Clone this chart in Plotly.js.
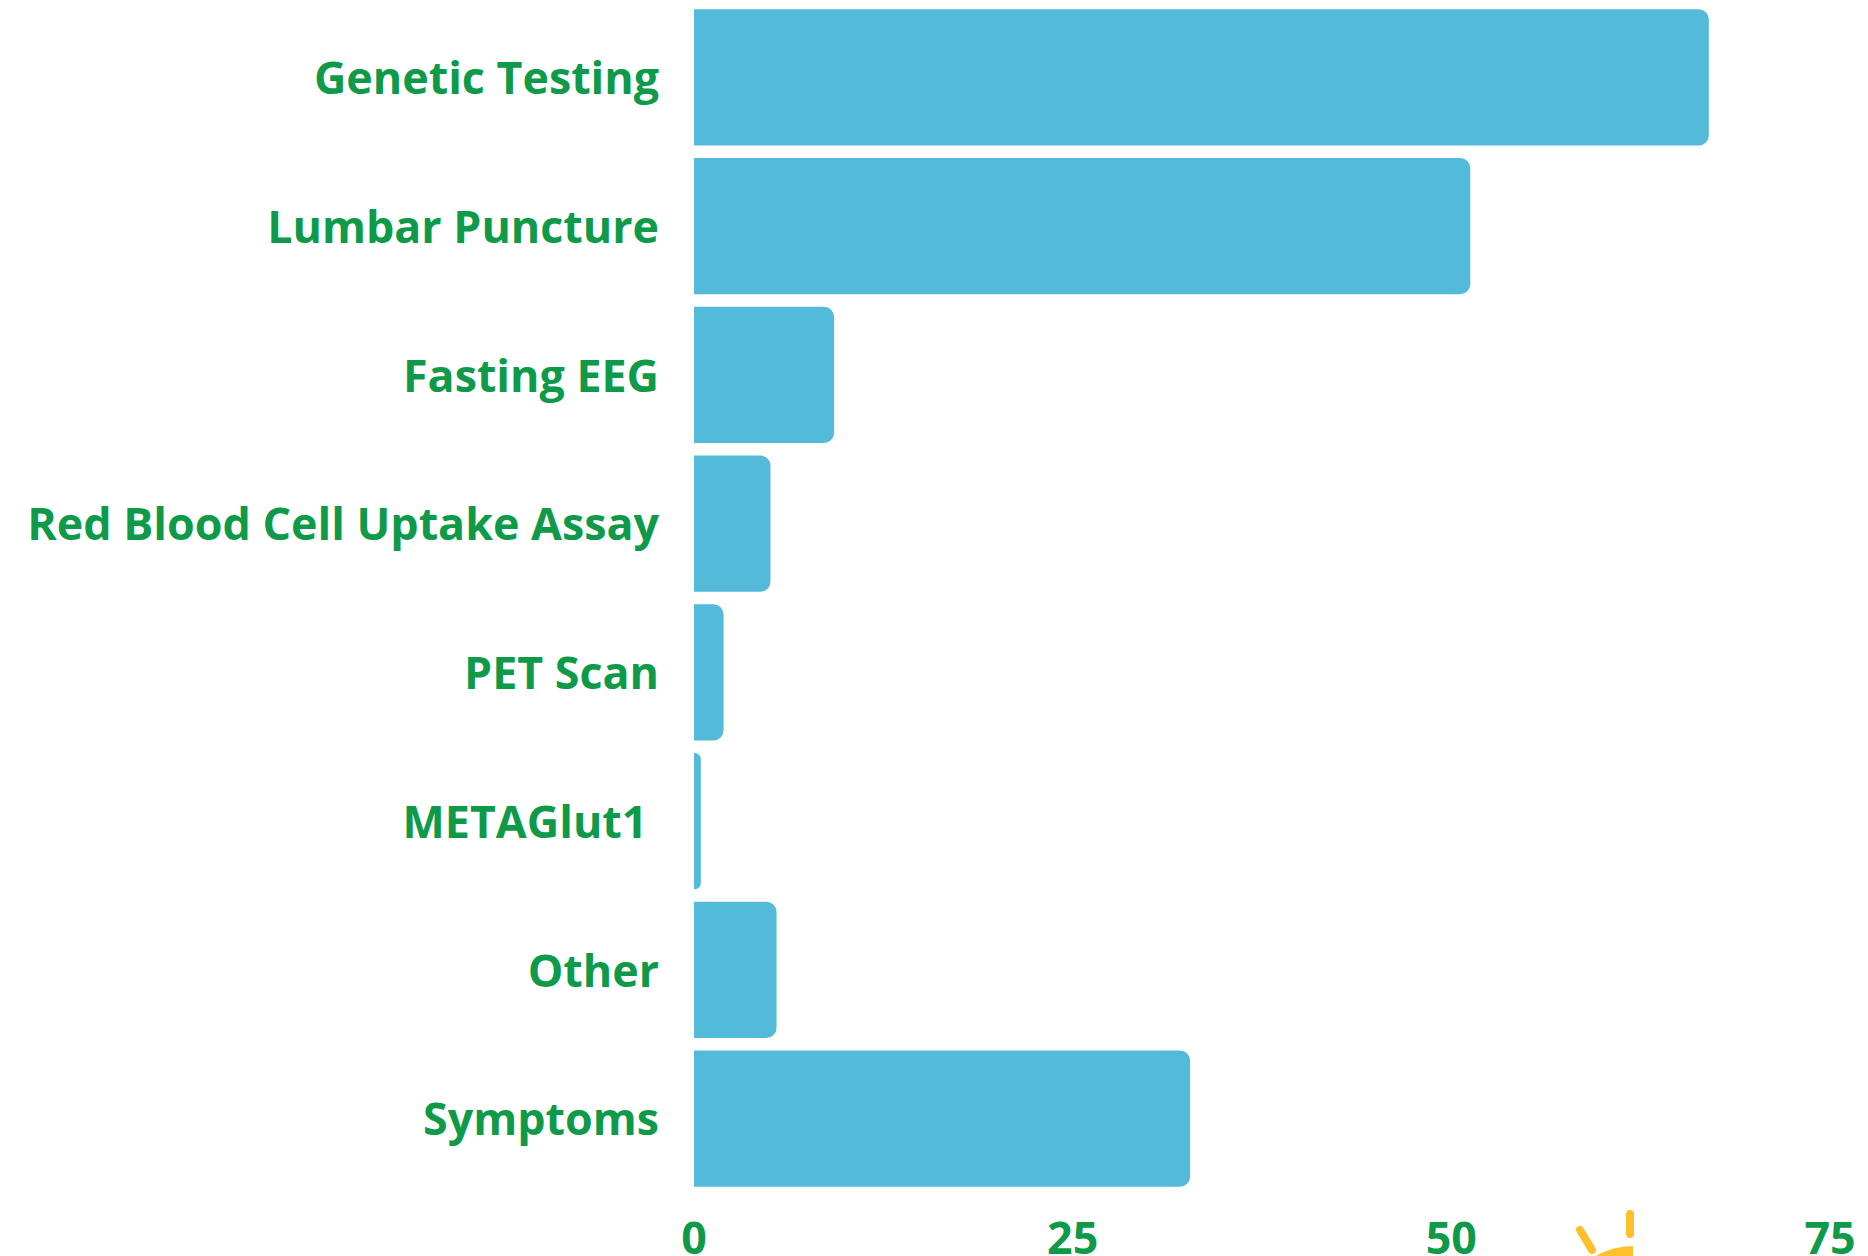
<!DOCTYPE html>
<html>
<head>
<meta charset="utf-8">
<script src="https://cdn.plot.ly/plotly-3.0.1.min.js"></script>
<style>html,body{margin:0;padding:0;background:#fff;overflow:hidden}#chart{width:1868px;height:1256px}</style>
</head>
<body>
<div id="chart"></div>
<script>
const categories = ["Genetic Testing", "Lumbar Puncture", "Fasting EEG", "Red Blood Cell Uptake Assay", "PET Scan", "METAGlut1\u00a0", "Other", "Symptoms"];
const values = [67, 51.25, 9.25, 5.05, 1.95, 0.45, 5.45, 32.75];
const xTicks = [0, 25, 50, 75];
const barColor = "#53BBD9";
const textColor = "#0E9A49";
const logoSvg = '<svg xmlns="http://www.w3.org/2000/svg" width="80" height="56" viewBox="0 0 80 56">' +
  '<g stroke="#FFC12B" stroke-width="8" stroke-linecap="round" fill="none">' +
  '<path d="M70 14V34"/><path d="M20 30L32 50"/></g>' +
  '<path d="M73 46A73 73 0 0 0 36 56L73 56Z" fill="#FFC12B"/></svg>';

const W = 1868, H = 1256;
const margin = {l: 694, r: 38, t: 3, b: 63, pad: 0};

Plotly.newPlot("chart", [{
  type: "bar",
  orientation: "h",
  y: categories,
  x: values,
  marker: {color: barColor, line: {width: 0}},
  hoverinfo: "y+x"
}], {
  width: W,
  height: H,
  margin: margin,
  paper_bgcolor: "#ffffff",
  plot_bgcolor: "#ffffff",
  showlegend: false,
  bargap: 0.085,
  barcornerradius: 10,
  font: {family: "'Open Sans', sans-serif", color: textColor},
  xaxis: {
    range: [0, 75],
    tickmode: "array",
    tickvals: xTicks,
    ticktext: xTicks.map(String),
    showgrid: false,
    zeroline: false,
    showline: false,
    ticks: "outside",
    ticklen: 6,
    tickcolor: "rgba(0,0,0,0)",
    tickfont: {family: "'Open Sans', sans-serif", size: 44.8, color: textColor, weight: 700}
  },
  yaxis: {
    type: "category",
    autorange: false,
    range: [7.5, -0.5],
    showgrid: false,
    zeroline: false,
    showline: false,
    ticks: "outside",
    ticklen: 25,
    tickcolor: "rgba(0,0,0,0)",
    ticklabelshift: -1,
    tickfont: {family: "'Open Sans', sans-serif", size: 44.8, color: textColor, weight: 700}
  },
  images: [{
    source: "data:image/svg+xml;utf8," + encodeURIComponent(logoSvg),
    xref: "paper", yref: "paper",
    x: (1560 - margin.l) / (W - margin.l - margin.r),
    y: (H - 1200 - margin.b) / (H - margin.t - margin.b),
    sizex: 80 / (W - margin.l - margin.r),
    sizey: 56 / (H - margin.t - margin.b),
    xanchor: "left", yanchor: "top",
    sizing: "stretch",
    layer: "above"
  }]
}, {displayModeBar: false, responsive: false});
</script>
</body>
</html>
